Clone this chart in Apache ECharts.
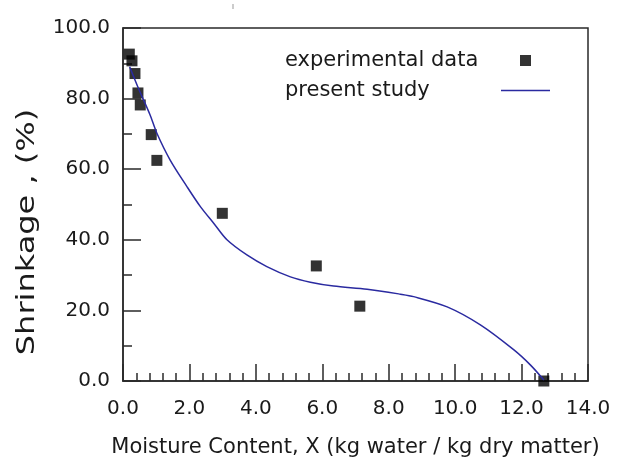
<!DOCTYPE html>
<html>
<head>
<meta charset="utf-8">
<script src="https://cdn.jsdelivr.net/npm/echarts@6/dist/echarts.min.js"></script>
<style>
html,body{margin:0;padding:0;background:#fff;}
#chart{width:619px;height:468px;}
</style>
</head>
<body>
<div id="chart"></div>
<script>
// Experimental data (moisture content X, shrinkage %)
const expX = [0.19, 0.27, 0.36, 0.45, 0.52, 0.85, 1.02, 2.99, 5.82, 7.13, 12.67];
const expY = [92.6, 90.7, 87.1, 81.6, 78.2, 69.8, 62.5, 47.5, 32.6, 21.2, 0.0];
// Model curve ("present study")
const modelX = [0.20, 0.46, 0.81, 1.02, 1.42, 1.93, 2.33, 2.73, 3.13, 3.73, 4.33, 5.04, 5.64, 6.34, 7.35, 8.35, 8.75, 9.76, 10.76, 11.77, 12.27, 12.67];
const modelY = [89.0, 83.0, 75.5, 70.2, 62.6, 55.0, 49.4, 44.7, 40.0, 35.7, 32.4, 29.5, 28.0, 26.9, 26.0, 24.6, 23.9, 21.0, 15.9, 8.8, 4.5, 0.3];
const seriesNames = ['experimental data', 'present study'];
const xTitle = 'Moisture Content, X (kg water / kg dry matter)';
const yTitle = 'Shrinkage , (%)';

const FONT = 'DejaVu Sans';
const TXT = '#1a1a1a';
const AX = '#2a2a2a';
const chart = echarts.init(document.getElementById('chart'), null, {renderer: 'canvas'});
const expData = expX.map((x, i) => [x, expY[i]]);
const modelData = modelX.map((x, i) => [x, modelY[i]]);

chart.setOption({
  animation: false,
  backgroundColor: '#fff',
  grid: {left: 123, right: 31, top: 28, bottom: 87, show: true, borderColor: AX, borderWidth: 1.5, backgroundColor: 'transparent'},
  legend: {
    orient: 'vertical', left: 280, top: 45, align: 'right',
    itemWidth: 49, itemHeight: 11, itemGap: 9, itemTextGap: 10,
    formatter: name => '{t|' + name + '}',
    textStyle: {fontFamily: FONT, fontSize: 21, color: TXT,
      rich: {t: {width: 211, align: 'left', fontFamily: FONT, fontSize: 21, color: TXT}}},
    data: [
      {name: seriesNames[0], icon: 'path://M0,0h11v11h-11z'},
      {name: seriesNames[1], icon: 'path://M0,0h49v1.5h-49z'}
    ]
  },
  xAxis: {
    type: 'value', min: 0, max: 14, interval: 2,
    name: xTitle, nameLocation: 'middle', nameGap: 56,
    nameTextStyle: {fontFamily: FONT, fontSize: 21, color: TXT},
    axisLine: {show: true, onZero: false, lineStyle: {color: AX, width: 1.5}},
    axisTick: {show: true, inside: true, length: 17, lineStyle: {color: AX, width: 1.5}},
    minorTick: {show: true, splitNumber: 5, length: 8, lineStyle: {color: AX, width: 1.5}},
    axisLabel: {fontFamily: FONT, fontSize: 20, color: TXT, margin: 18, formatter: v => v.toFixed(1)},
    splitLine: {show: false}
  },
  yAxis: {
    type: 'value', min: 0, max: 100, interval: 20,
    axisLine: {show: true, onZero: false, lineStyle: {color: AX, width: 1.5}},
    axisTick: {show: true, inside: true, length: 18, lineStyle: {color: AX, width: 1.5}},
    minorTick: {show: true, splitNumber: 2, length: 9, lineStyle: {color: AX, width: 1.5}},
    axisLabel: {fontFamily: FONT, fontSize: 20, color: TXT, margin: 13, formatter: v => v.toFixed(1)},
    splitLine: {show: false}
  },
  graphic: [
    {type: 'line', shape: {x1: 233, y1: 4, x2: 233, y2: 9}, style: {stroke: '#999', lineWidth: 1}},
    {type: 'text', x: 27, y: 232, rotation: Math.PI / 2, scaleX: 1.28, scaleY: 1,
     style: {text: yTitle, fontFamily: FONT, fontSize: 25, fill: TXT, align: 'center', verticalAlign: 'middle'}}
  ],
  series: [
    {name: seriesNames[0], type: 'scatter', symbol: 'rect', symbolSize: 11, clip: false, z: 2,
     itemStyle: {color: '#000'}, data: expData},
    {name: seriesNames[1], type: 'line', smooth: 0.3, symbol: 'none', clip: false, z: 3,
     lineStyle: {color: '#2a2aa0', width: 1.5}, itemStyle: {color: '#2a2aa0'}, data: modelData}
  ]
});
</script>
</body>
</html>
